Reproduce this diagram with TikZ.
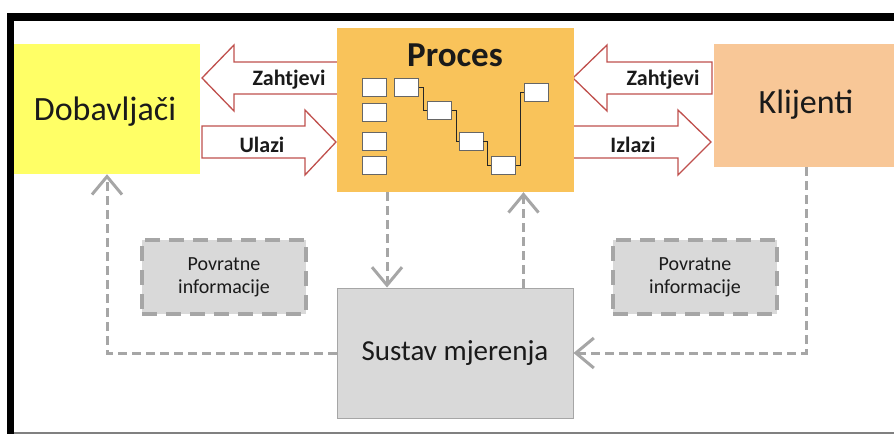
\documentclass[tikz,border=0pt]{standalone}
\usepackage{fontspec}
\setmainfont{Carlito}
\usetikzlibrary{arrows.meta,calc}
\definecolor{dobyel}{HTML}{FFFF66}
\definecolor{klipeach}{HTML}{F8C797}
\definecolor{procorange}{HTML}{F9C35A}
\definecolor{lgray}{HTML}{D9D9D9}
\definecolor{mgray}{HTML}{A6A6A6}
\definecolor{arrred}{HTML}{C0504D}
\definecolor{txt}{HTML}{1A1A1A}
\begin{document}
\begin{tikzpicture}[x=1pt,y=-1pt,
  bigbox/.style={inner sep=0pt, text=txt, font=\fontsize{34}{40}\selectfont},
  smallbox/.style={draw=gray!80!black, fill=white, line width=0.9pt, minimum width=24pt, minimum height=18pt, inner sep=0pt},
  blockarrow/.style={draw=arrred, fill=white, line width=1.3pt, line join=miter},
  arrlabel/.style={font=\bfseries\fontsize{22}{26}\selectfont, text=txt, inner sep=0pt},
  fbbox/.style={draw=mgray, fill=lgray, line width=3.5pt, dash pattern=on 15pt off 9pt, minimum width=164pt, minimum height=74pt, inner sep=0pt, align=center, text=txt, font=\fontsize{20}{23}\selectfont},
  fbline/.style={draw=mgray, line width=3pt, dash pattern=on 9pt off 5pt, -{Straight Barb[length=18pt,width=30pt,line width=3pt]}},
  stepline/.style={draw=black!85, line width=0.9pt}
]
\useasboundingbox (0,0) rectangle (894,434);
\fill[white] (0,0) rectangle (894,434);
% frame
\fill[black] (7,13) rectangle (894,21);
\fill[black] (7,13) rectangle (14,434);
\draw[gray, line width=1.5pt] (14,433) -- (894,433);

% block arrows (drawn before boxes)
\draw[blockarrow] (340,62) -- (234,62) -- (234,45) -- (202,78) -- (234,111) -- (234,94) -- (340,94);
\draw[blockarrow] (202,126) -- (305,126) -- (305,110) -- (336,142) -- (305,175) -- (305,158) -- (202,158) -- cycle;
\draw[blockarrow] (712,62) -- (607,62) -- (607,45) -- (573,78) -- (607,111) -- (607,94) -- (712,94) -- cycle;
\draw[blockarrow] (570,126) -- (678,126) -- (678,110) -- (711,142) -- (678,175) -- (678,158) -- (570,158);

% main boxes
\node[bigbox, fill=dobyel, minimum width=186pt, minimum height=130pt] (dob) at (107,109) {};
\node[bigbox] (dobt) at (105,112) {Dobavljači};
\node[bigbox, fill=klipeach, minimum width=180pt, minimum height=123pt] (kli) at (804,105.5) {};
\node[bigbox] (klit) at (806,105) {Klijenti};
\node[fill=procorange, minimum width=237pt, minimum height=164pt, inner sep=0pt] (proc) at (455.5,110) {};
\node[font=\bfseries\fontsize{35}{40}\selectfont, text=txt, inner sep=0pt] (proct) at (455,55) {Proces};
\node[draw=mgray, fill=lgray, line width=1pt, minimum width=236pt, minimum height=130pt, inner sep=0pt, text=txt, font=\fontsize{29}{34}\selectfont] (sus) at (455,353) {Sustav mjerenja};

% arrow labels
\node[arrlabel] (lz) at (289,80) {Zahtjevi};
\node[arrlabel] (lu) at (262,145) {Ulazi};
\node[arrlabel] (rz) at (663,80) {Zahtjevi};
\node[arrlabel] (ri) at (633,145) {Izlazi};

% small boxes inside process
\node[smallbox] (l1) at (374,87) {};
\node[smallbox] (l2) at (374,112) {};
\node[smallbox] (l3) at (374,141.5) {};
\node[smallbox] (l4) at (374,165.5) {};
\node[smallbox] (s1) at (406.5,87) {};
\node[smallbox] (s2) at (439.5,110.5) {};
\node[smallbox] (s3) at (471,141.5) {};
\node[smallbox] (s4) at (503.5,165.5) {};
\node[smallbox] (s5) at (536.5,92) {};
\draw[stepline] (s1.east) -- ++(4,0) |- (s2.west);
\draw[stepline] (s2.east) -- ++(4,0) |- (s3.west);
\draw[stepline] (s3.east) -- ++(4,0) |- (s4.west);
\draw[stepline] (s4.east) -- ++(4,0) |- (s5.west);

% feedback boxes
\node[fbbox] (pov1) at (224,277) {Povratne\\informacije};
\node[fbbox] (pov2) at (695,277) {Povratne\\informacije};

% feedback connectors
\draw[fbline] (sus.west) -| (dob.south);
\draw[fbline] ([xshift=-68.5pt]proc.south) -- ([xshift=-68pt]sus.north);
\draw[fbline] ([xshift=68.5pt]sus.north) -- ([xshift=68pt]proc.south);
\draw[fbline] ([xshift=2pt]kli.south) |- (sus.east);
\end{tikzpicture}
\end{document}
